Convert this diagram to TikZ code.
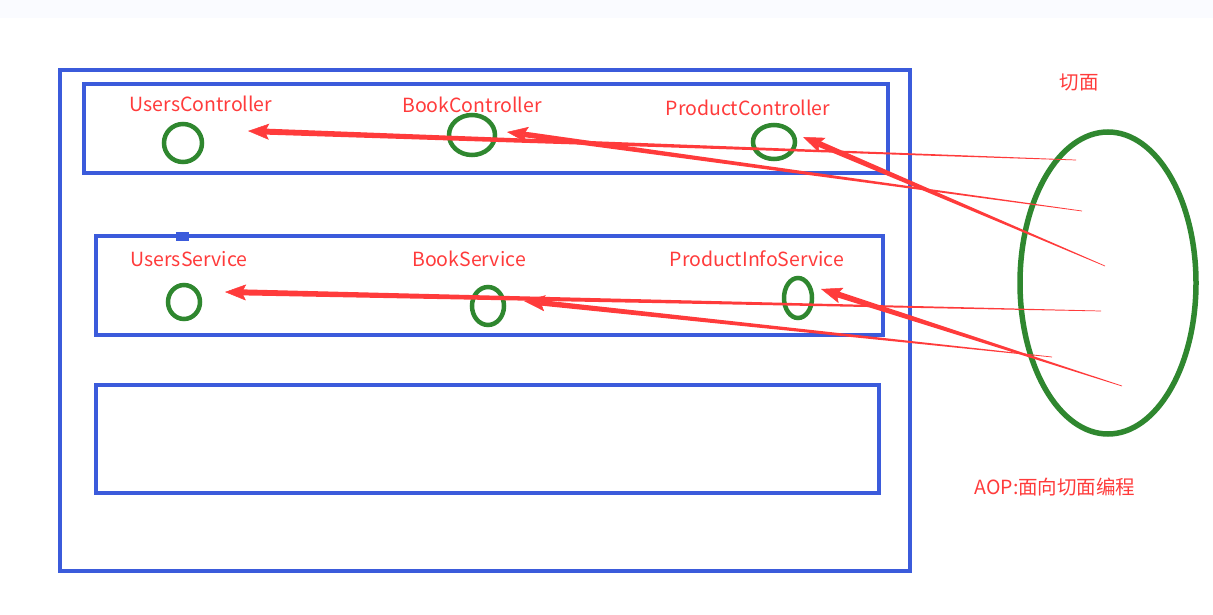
\documentclass[tikz,border=0pt]{standalone}
\usepackage{fontspec}
\newfontfamily\cjk{Noto Sans CJK SC}
\usetikzlibrary{calc,arrows.meta}
\definecolor{bblue}{HTML}{3B5BDB}
\definecolor{ggreen}{HTML}{2F872F}
\definecolor{rred}{HTML}{FF3B3B}
\definecolor{topbar}{HTML}{FAFBFF}
\tikzset{
  box/.style={draw=bblue, line width=4.5pt},
  ring/.style={draw=ggreen, line width=4.5pt},
  lbl/.style={text=rred, font=\cjk\fontsize{19.5}{22}\selectfont, inner sep=0pt},
}
\newcommand\taperarrow[3]{% tip, tail, width at head
  \coordinate (H) at ($(#1)!17pt!(#2)$);
  \fill[rred] ($(H)!#3!90:(#2)$) -- ($(#2)!0.35pt!-90:(H)$) -- ($(#2)!0.35pt!90:(H)$) -- ($(H)!#3!-90:(#2)$) -- cycle;
  \draw[rred, line width=0.5pt, -{Stealth[length=21pt,width=16pt,inset=4pt]}] (H) -- (#1);
}
\begin{document}
\begin{tikzpicture}[x=1pt,y=-1pt]
\useasboundingbox (0,0) rectangle (1213,615);
\fill[topbar] (0,0) rectangle (1213,18);
% boxes
\draw[box] (60,70) rectangle (910,571);
\draw[box] (84,84) rectangle (888,173);
\draw[box] (96,236) rectangle (883,335);
\draw[box] (96,385) rectangle (879,493);
\fill[bblue] (176,232) rectangle (189,241);
% rings
\draw[ring] (183,143) ellipse [x radius=19, y radius=19];
\draw[ring] (472,135) ellipse [x radius=23, y radius=20];
\draw[ring] (774,142) ellipse [x radius=21, y radius=17];
\draw[ring] (184,302) ellipse [x radius=16, y radius=17];
\draw[ring] (488,306) ellipse [x radius=16, y radius=19];
\draw[ring] (798,298) ellipse [x radius=14, y radius=20];
\draw[ring, line width=5.5pt] (1108,283) ellipse [x radius=88, y radius=151];
% labels
\node[lbl] (uc) at (201,104) {UsersController};
\node[lbl] (bc) at (472,105) {BookController};
\node[lbl] (pc) at (748,108) {ProductController};
\node[lbl] (us) at (189,259) {UsersService};
\node[lbl] (bs) at (469,259) {BookService};
\node[lbl] (ps) at (757,259) {ProductInfoService};
\node[lbl] (qm) at (1079,82) {切面};
\node[lbl] (aop) at (1055,487) {AOP:面向切面编程};
% arrow ends
\coordinate (t1) at (248,131); \coordinate (s1) at (1076,160);
\coordinate (t2) at (507,132); \coordinate (s2) at (1082,211);
\coordinate (t3) at (803,137); \coordinate (s3) at (1105,266);
\coordinate (t4) at (225,292); \coordinate (s4) at (1101,311);
\coordinate (t5) at (524,301); \coordinate (s5) at (1052,357);
\coordinate (t6) at (821,289); \coordinate (s6) at (1122,386);
\taperarrow{t1}{s1}{3pt}
\taperarrow{t2}{s2}{2.8pt}
\taperarrow{t3}{s3}{3pt}
\taperarrow{t4}{s4}{3pt}
\taperarrow{t5}{s5}{2.8pt}
\taperarrow{t6}{s6}{3pt}
\end{tikzpicture}
\end{document}
